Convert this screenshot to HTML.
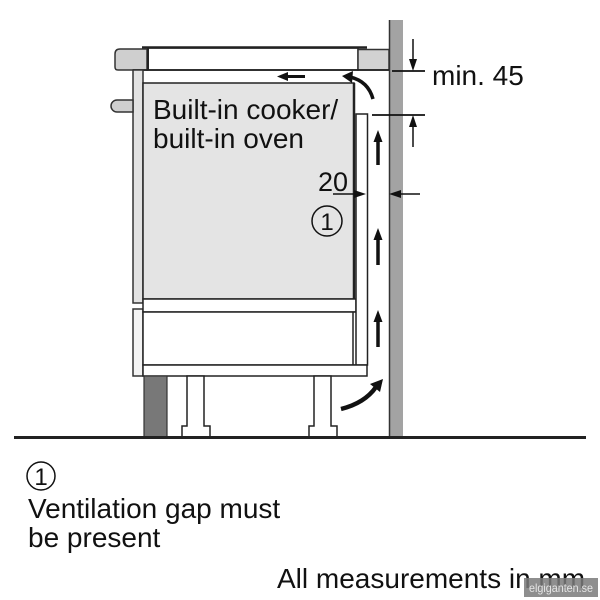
<!DOCTYPE html>
<html><head><meta charset="utf-8"><style>
html,body{margin:0;padding:0;background:#fff;}
svg{display:block;}
text{font-family:"Liberation Sans",Arial,sans-serif;fill:#111;}
</style></head><body>
<svg width="600" height="600" viewBox="0 0 600 600" xmlns="http://www.w3.org/2000/svg">
<rect width="600" height="600" fill="#fff"/>
<!-- wall -->
<rect x="389" y="20" width="14" height="418" fill="#a3a3a3"/>
<line x1="389.5" y1="20" x2="389.5" y2="437" stroke="#333" stroke-width="1.5"/>
<!-- countertop -->
<rect x="147" y="48" width="211" height="22" fill="#fff" stroke="#222" stroke-width="1.5"/>
<line x1="142" y1="47.5" x2="367" y2="47.5" stroke="#222" stroke-width="2.5"/>
<path d="M147,49 V70 H118 Q115,70 115,67 V54 Q115,49 120,49 Z" fill="#cfcfcf" stroke="#333" stroke-width="1.5"/>
<line x1="148" y1="47" x2="148" y2="70" stroke="#222" stroke-width="2"/>
<rect x="358" y="49.5" width="31" height="20.5" fill="#d2d2d2" stroke="#333" stroke-width="1.5"/>
<line x1="133" y1="70" x2="389" y2="70" stroke="#222" stroke-width="1.8"/>
<!-- left door panels -->
<rect x="133" y="70" width="10" height="233" fill="#e2e2e2" stroke="#333" stroke-width="1.5"/>
<rect x="133" y="309" width="10" height="67" fill="#f4f4f4" stroke="#333" stroke-width="1.5"/>
<path d="M133,100 H117 A6,6 0 0 0 117,112 H133 Z" fill="#cfcfcf" stroke="#333" stroke-width="1.5"/>
<!-- oven box -->
<rect x="143" y="83" width="211" height="216" fill="#e4e4e4" stroke="#222" stroke-width="1.5"/>
<line x1="354" y1="83" x2="354" y2="299" stroke="#222" stroke-width="2.5"/>
<rect x="143" y="299" width="213" height="13" fill="#fff" stroke="#222" stroke-width="1.5"/>
<rect x="143" y="312" width="214" height="53" fill="#fff" stroke="#222" stroke-width="1.5"/>
<line x1="353" y1="312" x2="353" y2="365" stroke="#222" stroke-width="1.5"/>
<!-- side panel -->
<rect x="356" y="114" width="11.5" height="251" fill="#fff" stroke="#222" stroke-width="1.5"/>
<!-- slab -->
<rect x="143" y="365" width="224" height="11" fill="#fff" stroke="#222" stroke-width="1.5"/>
<!-- plinth -->
<rect x="144" y="376" width="23" height="61" fill="#787878" stroke="#333" stroke-width="1.2"/>
<!-- feet -->
<path d="M187,376 V426 H182 V437 H210 V426 H204 V376 Z" fill="#fff" stroke="#222" stroke-width="1.5"/>
<path d="M314,376 V426 H309 V437 H337 V426 H331 V376 Z" fill="#fff" stroke="#222" stroke-width="1.5"/>
<!-- floor -->
<rect x="14" y="436" width="572" height="3" fill="#222"/>

<!-- top horizontal arrow -->
<line x1="285" y1="76.5" x2="305" y2="76.5" stroke="#111" stroke-width="3"/>
<polygon points="277,76.5 288,72 288,81" fill="#111"/>
<!-- top curved arrow -->
<path d="M373,99 C370,88 363,80 350,77" fill="none" stroke="#111" stroke-width="3.5"/>
<polygon points="342,76 353,71 352,83" fill="#111"/>
<!-- vertical arrows -->
<line x1="378" y1="165" x2="378" y2="138" stroke="#111" stroke-width="3.5"/>
<polygon points="378,130 373.5,142 382.5,142" fill="#111"/>
<line x1="378" y1="265" x2="378" y2="236" stroke="#111" stroke-width="3.5"/>
<polygon points="378,228 373.5,240 382.5,240" fill="#111"/>
<line x1="378" y1="347" x2="378" y2="318" stroke="#111" stroke-width="3.5"/>
<polygon points="378,310 373.5,322 382.5,322" fill="#111"/>
<!-- bottom curved arrow -->
<path d="M341,409 C357,405 369,397 376,387" fill="none" stroke="#111" stroke-width="4.5"/>
<polygon points="383,379 370,384 380,392" fill="#111"/>

<!-- min 45 dimension -->
<line x1="392" y1="71" x2="425" y2="71" stroke="#111" stroke-width="1.8"/>
<line x1="413" y1="39" x2="413" y2="62" stroke="#111" stroke-width="1.5"/>
<polygon points="413,71 409,59 417,59" fill="#111"/>
<line x1="372" y1="115" x2="425" y2="115" stroke="#111" stroke-width="1.8"/>
<line x1="413" y1="124" x2="413" y2="147" stroke="#111" stroke-width="1.5"/>
<polygon points="413,115 409,127 417,127" fill="#111"/>
<text x="432" y="85" font-size="28">min. 45</text>

<!-- 20 dimension -->
<line x1="333" y1="194" x2="356" y2="194" stroke="#111" stroke-width="1.5"/>
<polygon points="366,194 354,190 354,198" fill="#111"/>
<line x1="398" y1="194" x2="420" y2="194" stroke="#111" stroke-width="1.5"/>
<polygon points="389,194 401,190 401,198" fill="#111"/>
<text x="318" y="191" font-size="27">20</text>

<!-- circled 1 in diagram -->
<circle cx="327" cy="221" r="15" fill="none" stroke="#111" stroke-width="1.5"/>
<text x="327" y="230" font-size="24" text-anchor="middle">1</text>

<!-- labels -->
<text x="153" y="119" font-size="28">Built-in cooker/</text>
<text x="153" y="148" font-size="28">built-in oven</text>

<circle cx="41" cy="476" r="14" fill="none" stroke="#111" stroke-width="1.5"/>
<text x="41" y="485" font-size="24" text-anchor="middle">1</text>
<text x="28" y="518" font-size="28">Ventilation gap must</text>
<text x="28" y="547" font-size="28">be present</text>
<text x="277" y="588" font-size="28">All measurements in mm</text>

<!-- watermark -->
<rect x="524" y="578" width="74" height="19" fill="#7a7a7a" fill-opacity="0.85"/>
<text x="529" y="592" font-size="12" textLength="64" lengthAdjust="spacingAndGlyphs" style="fill:#e6e6e6">elgiganten.se</text>
</svg>
</body></html>
